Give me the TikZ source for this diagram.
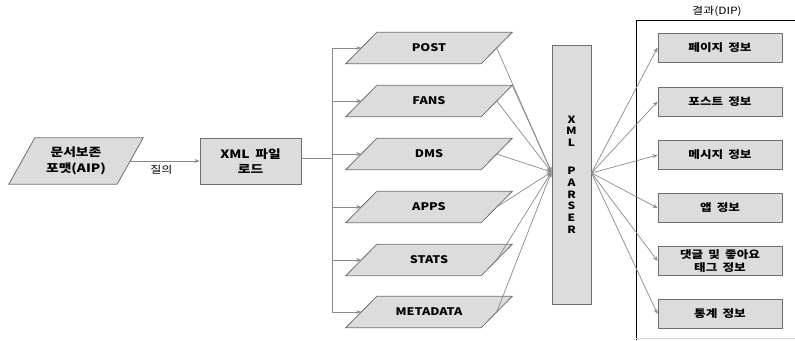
\documentclass[tikz,border=0pt]{standalone}
\usepackage{fontspec}
\setmainfont{Noto Sans CJK KR}[FakeStretch=1.2,WordSpace=1.8]
\usetikzlibrary{arrows.meta,backgrounds}
\definecolor{boxc}{HTML}{DCDCDC}
\definecolor{bordc}{HTML}{6E6E6E}
\definecolor{linec}{HTML}{8A8A8A}
\begin{document}
\begin{tikzpicture}[x=1pt,y=-1pt,
  box/.style={draw=bordc, fill=boxc, line width=0.8pt, inner sep=1pt, align=center,
    font=\bfseries\fontsize{10.5}{12.5}\selectfont},
  paratext/.style={inner sep=1pt, align=center, minimum width=135pt, minimum height=31pt,
    font=\bfseries\fontsize{10.5}{12.5}\selectfont},
  parashape/.style={draw=bordc, fill=boxc, line width=0.8pt, line join=miter},
  resbox/.style={box, minimum width=124pt, minimum height=29pt},
  plain/.style={draw=linec, line width=0.7pt},
  conn/.style={plain, -{Stealth[length=5pt,width=4pt]}},
  lbl/.style={font=\fontsize{10}{12}\selectfont, inner sep=1pt}
  ]
\useasboundingbox (0,0) rectangle (795,340);

% source
\node[paratext, minimum width=108pt, minimum height=46pt,
  font=\bfseries\fontsize{11.5}{16}\selectfont] (aip) at (76,161) {문서보존\\포맷(AIP)};
\begin{scope}[on background layer]
  \draw[parashape] ([xshift=-13pt]aip.south west) -- ([xshift=13pt]aip.north west)
    -- ([xshift=13pt]aip.north east) -- ([xshift=-13pt]aip.south east) -- cycle;
\end{scope}
\node[box, minimum width=101pt, minimum height=46pt,
  font=\bfseries\fontsize{11.5}{15.5}\selectfont] (xml) at (250.5,161) {XML 파일\\로드};
\draw[conn] (aip.east) -- (xml.west) node[lbl, pos=0.45, below=3pt] {질의};

% parsed files
\node[paratext] (p1) at (429,48) {POST};
\node[paratext] (p2) at (429,101) {FANS};
\node[paratext] (p3) at (429,154) {DMS};
\node[paratext] (p4) at (429,207) {APPS};
\node[paratext] (p5) at (429,260) {STATS};
\node[paratext] (p6) at (429,312) {METADATA};
\begin{scope}[on background layer]
\foreach \i in {1,...,6}{
  \draw[parashape] ([xshift=-15.5pt]p\i.south west) -- ([xshift=15.5pt]p\i.north west)
    -- ([xshift=15.5pt]p\i.north east) -- ([xshift=-15.5pt]p\i.south east) -- cycle;
}
\end{scope}

\coordinate (tr) at (332,158);
\draw[plain] (xml.east |- tr) -- (tr);
\draw[plain] (tr |- p1.west) -- (tr |- p6.west);
\foreach \i in {1,...,6}{
  \draw[conn] (tr |- p\i.west) -- (p\i.west);
}

% parser
\node[box, minimum width=39pt, minimum height=259pt,
  font=\bfseries\fontsize{10}{11.8}\selectfont] (parser) at (571.5,174.5)
  {X\\M\\L\\[16pt]P\\A\\R\\S\\E\\R};
\coordinate (pin) at (551.5,172);
\coordinate (pout) at (591.5,173);
\foreach \i in {1,...,6}{
  \draw[conn] (p\i.east) -- (pin);
}
\draw[conn] ([xshift=15.5pt]p2.north east) -- (pin);

% results
\draw[black, line width=0.8pt] (636,340) -- (636,20) -- (795,20);
\draw[gray!35, line width=0.8pt] (636,338.5) -- (795,338.5);
\node[lbl] (dip) at (717,11) {결과(DIP)};

\node[resbox] (r1) at (720,47.5) {페이지 정보};
\node[resbox] (r2) at (720,101.5) {포스트 정보};
\node[resbox] (r3) at (720,155) {메시지 정보};
\node[resbox] (r4) at (720,208) {앱 정보};
\node[resbox, font=\bfseries\fontsize{10.5}{12.5}\selectfont] (r5) at (720,261) {댓글 및 좋아요\\태그 정보};
\node[resbox] (r6) at (720,314) {통계 정보};
\foreach \i in {1,...,6}{
  \draw[conn] (pout) -- (r\i.west);
}
\end{tikzpicture}
\end{document}
